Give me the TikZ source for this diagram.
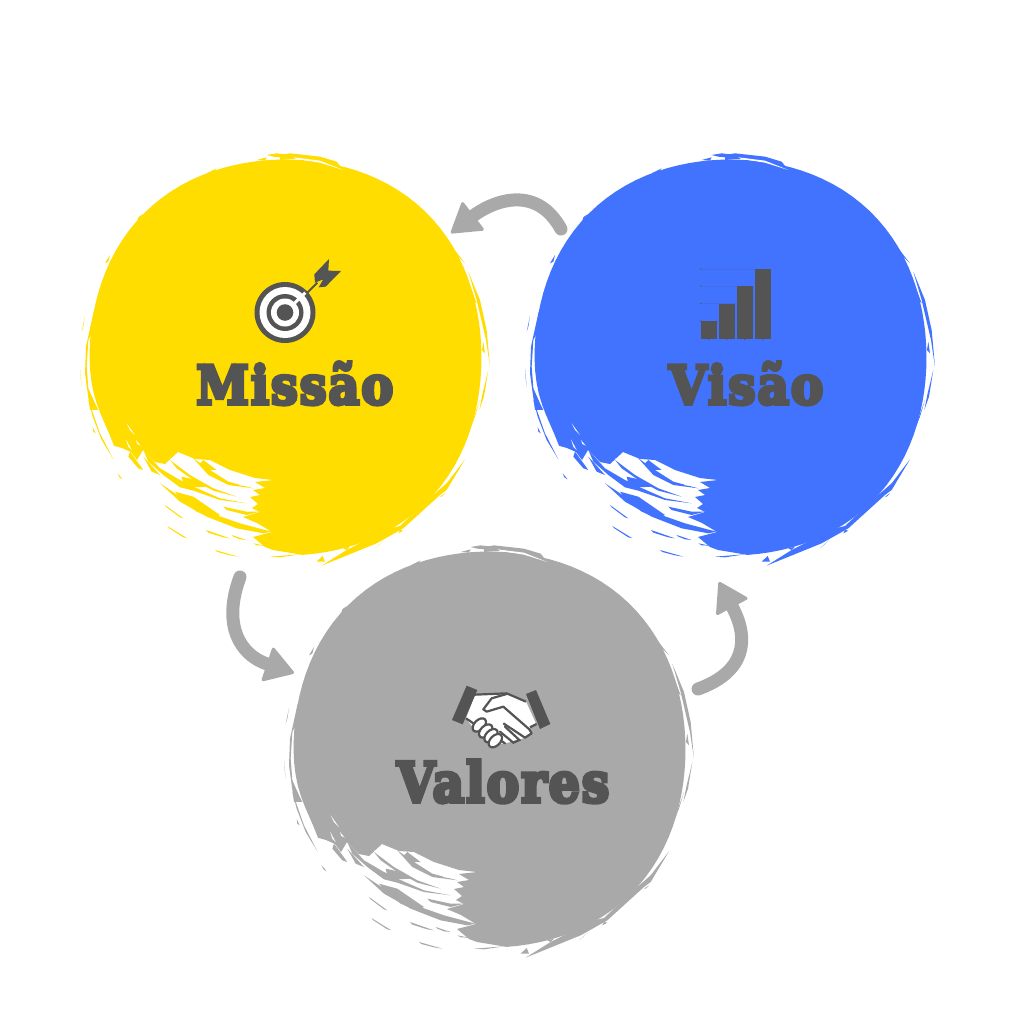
\documentclass[tikz,border=0pt]{standalone}
\usepackage{fontspec}
\usepackage{graphicx}
\usetikzlibrary{arrows.meta}
\newfontfamily\slabfont[FakeBold=7,LetterSpace=4]{DejaVu Serif Bold}
\definecolor{mis}{HTML}{FFDD00}
\definecolor{vis}{HTML}{4173FF}
\definecolor{val}{HTML}{A9A9A9}
\definecolor{ink}{HTML}{545454}
\tikzset{
  flow/.style={draw=val,line width=13pt,line cap=round,-{Triangle[length=30pt,width=37pt,line width=3pt,round]}},
  title/.style={anchor=base west,inner sep=0pt,text=ink},
  z4/.style={shift={(80,400)},x=0.3333pt,y=-0.3333pt},
  z5/.style={shift={(70,140)},x=0.3333pt,y=-0.3333pt},
  z6/.style={shift={(280,140)},x=0.3333pt,y=-0.3333pt},
  z7/.style={shift={(300,400)},x=0.3333pt,y=-0.3333pt},
}
\newcommand{\titletext}[3]{\resizebox{#1pt}{#2pt}{\slabfont #3}}
\newcommand{\brushblob}[2]{%
\begin{scope}[shift={#1}]
 \fill[#2] plot[domain=-85:207,samples=90,variable=\myang] ({285.5+(196+5*sin(2*\myang)*sin(2*\myang)-7*exp(-((\myang-205)/12)*((\myang-205)/12)))*cos(\myang)},{357.5-(198+5*sin(2*\myang)*sin(2*\myang)-7*exp(-((\myang-205)/12)*((\myang-205)/12)))*sin(\myang)})
  -- (122,448)--(131,452)--(137,460)--(143,450)--(155,462)--(165,464)--(178,452)--(195,459)--(210,460)--(230,470)--(255,478)--(273,480)--(255,482)--(265,488)--(253,490)--(260,495)--(250,497)--(258,504)--(252,508)--(260,512)--(243,517)--(257,523)--(272,532)--(253,537)--(265,547)--(273,550)--cycle;
 \begin{scope}[z4]
  \fill[#2] (190,150)--(240,205)--(300,240)--(345,262)--(420,295)--(500,310)--(420,300)--(340,272)--(300,262)--(250,225)--(205,185)--cycle;
  \fill[#2] (270,180)--(330,225)--(400,265)--(470,290)--(400,272)--(340,240)--(290,205)--cycle;
  \fill[#2] (305,230)--(350,240)--(380,260)--(340,262)--(310,250)--cycle;
  \fill[#2] (340,175)--(390,210)--(445,245)--(520,265)--(445,255)--(385,225)--cycle;
  \fill[#2] (370,180)--(410,210)--(385,210)--(360,190)--cycle;
  \fill[#2] (240,250)--(300,290)--(380,335)--(480,370)--(555,390)--(575,395)--(550,400)--(470,385)--(380,350)--(300,305)--cycle;
  \fill[#2] (285,275)--(340,290)--(420,345)--(400,355)--(350,335)--(300,295)--cycle;
  \fill[#2] (430,320)--(500,335)--(540,335)--(500,345)--(440,330)--cycle;
  \fill[#2] (150,155)--(190,210)--(175,205)--(145,170)--cycle;
  \fill[#2] (190,170)--(240,225)--(215,215)--cycle;
  \fill[#2] (255,315)--(310,355)--(300,352)--(260,322)--cycle;
  \fill[#2] (262,378)--(322,415)--(310,412)--(268,385)--cycle;
  \fill[#2] (378,390)--(450,415)--(430,412)--(385,398)--cycle;
  \fill[#2] (455,405)--(500,420)--(480,418)--(460,410)--cycle;
  \fill[#2] (405,450)--(475,470)--(450,466)--(412,456)--cycle;
  \fill[#2] (520,430)--(555,437)--(530,436)--cycle;
  \fill[#2] (113,220)--(128,238)--(118,232)--cycle;
  \fill[#2] (38,82)--(47,100)--(40,95)--cycle;
  \fill[#2] (25,0)--(60,100)--(100,178)--(65,120)--(38,50)--cycle;
  \fill[#2] (570,470)--(660,463)--(600,472)--cycle;
  \fill[white] (140,70)--(165,105)--(150,90)--cycle;
  \fill[white] (138,118)--(155,150)--(145,140)--cycle;
  \fill[white] (168,120)--(182,137)--(172,132)--cycle;
  \fill[white] (270,175)--(340,215)--(300,200)--cycle;
  \fill[white] (430,230)--(470,245)--(445,240)--cycle;
  \fill[white] (475,250)--(500,258)--(480,256)--cycle;
 \end{scope}
 \begin{scope}[z5]
  \fill[#2] (60,810)--(45,700)--(48,620)--(70,520)--(100,430)--(115,405)--(95,440)--(70,545)--(68,575)--(55,600)--(50,680)--(55,745)--(75,790)--(85,810)--cycle;
  \fill[#2] (35,575)--(45,528)--(40,560)--cycle;
  \fill[#2] (30,685)--(35,740)--(32,715)--cycle;
  \fill[#2] (105,370)--(120,345)--(115,365)--cycle;
  \fill[#2] (200,250)--(218,222)--(205,232)--cycle;
  \fill[#2] (320,150)--(328,142)--(322,156)--cycle;
  \fill[#2] (410,100)--(440,85)--(430,97)--cycle;
  \fill[#2] (450,90)--(560,65)--(450,95)--cycle;
  \fill[#2] (560,60)--(590,52)--(585,62)--cycle;
  \fill[#2] (590,45)--(620,40)--(660,45)--(660,55)--(610,50)--cycle;
 \end{scope}
 \begin{scope}[z6]
  \fill[#2] (0,45)--(30,40)--(120,50)--(170,65)--(190,90)--(130,70)--(60,55)--(0,60)--cycle;
  \fill[white] (40,52)--(120,62)--(190,90)--(120,68)--(50,57)--cycle;
  \fill[#2] (520,325)--(555,370)--(530,345)--cycle;
  \fill[#2] (565,395)--(600,480)--(620,570)--(630,680)--(618,600)--(590,480)--cycle;
  \fill[#2] (575,450)--(590,490)--(580,480)--cycle;
  \fill[#2] (610,605)--(615,640)--(606,630)--cycle;
  \fill[#2] (625,690)--(612,770)--(598,810)--(608,760)--cycle;
 \end{scope}
 \begin{scope}[z7]
  \fill[#2] (65,497)--(140,450)--(270,385)--(300,378)--(400,285)--(440,250)--(495,178)--(440,270)--(420,285)--(310,385)--(230,430)--cycle;
  \fill[#2] (50,485)--(68,468)--(75,485)--cycle;
  \fill[#2] (225,445)--(250,422)--(240,432)--cycle;
  \fill[#2] (130,445)--(150,440)--(140,450)--cycle;
  \fill[#2] (300,390)--(310,392)--(295,400)--cycle;
  \fill[#2] (420,290)--(435,280)--(425,290)--cycle;
  \fill[#2] (540,0)--(525,50)--(475,170)--(510,85)--cycle;
 \end{scope}
\end{scope}}
\begin{document}
\begin{tikzpicture}[x=1pt,y=-1pt]
\useasboundingbox (0,0) rectangle (1024,1024);
\fill[white] (0,0) rectangle (1024,1024);
\brushblob{(0,0)}{mis}
\brushblob{(445,0)}{vis}
\brushblob{(204,392)}{val}
% target icon
\coordinate (tc) at (285,312.5);
\fill[ink] (tc) circle (30.5);
\fill[white] (tc) circle (25.5);
\fill[ink] (tc) circle (18.5);
\fill[white] (tc) circle (14);
\fill[ink] (tc) circle (8.3);
\begin{scope}[shift={(180,240)},x=0.3333pt,y=-0.3333pt]
 \draw[white,line width=3pt] (335,198)--(376,158);
 \draw[ink,line width=2pt] (382,158)--(412,128);
 \fill[ink] (403,103)--(447,57)--(445,92)--(483,93)--(437,140)--(416,142)--(430,118)--(405,128)--cycle;
\end{scope}
% bars icon
\begin{scope}[shift={(650,250)},x=0.3333pt,y=-0.3333pt]
 \foreach \yy in {57,108,160,213}{
  \draw[ink!18!vis,line width=0.25pt] (151,\yy)--(316,\yy);
  \fill[ink] (152,\yy) circle (2);}
 \fill[ink] (153,213) rectangle (200,266);
 \fill[ink] (207,161) rectangle (254,266);
 \fill[ink] (262,108) rectangle (308,266);
 \fill[ink] (316,57) rectangle (362,266);
 \foreach \xx in {176,230,284,338}{\fill[ink] (\xx,268) circle (2);}
\end{scope}
% handshake icon
\begin{scope}[shift={(390,670)},x=0.3333pt,y=-0.3333pt]
 \fill[white] (228,145)--(255,75)--(350,70)--(408,95)--(440,165)--(420,172)--(425,190)--(400,205)--(345,220)--(318,222)--(255,180)--cycle;
 \draw[ink,line width=2.2pt,line join=round] (255,74)--(350,70)--(408,95);
 \draw[ink,line width=2.2pt,line join=round] (420,172)--(440,162);
 \draw[ink,line width=2.2pt,line join=round] (228,145)--(250,160);
 \draw[ink,line width=2.2pt,line join=round] (350,72)--(305,85)--(280,118)--(290,125)--(340,110)--(418,178)--(425,190)--(405,203)--(340,160);
 \draw[ink,line width=2.2pt,line cap=round] (345,170)--(388,210)--(370,218)--(330,185);
 \draw[ink,line width=2.2pt,line cap=round] (345,220)--(322,205);
 \foreach \px/\py in {268/165,287/183,303/197,316/212}{
  \draw[ink,fill=white,line width=2.2pt,rotate around={45:(\px,\py)}] (\px,\py) ellipse (24 and 15);}
 \fill[ink] (186,150)--(230,47)--(262,60)--(218,163)--cycle;
 \fill[ink] (408,72)--(438,60)--(481,162)--(450,177)--cycle;
\end{scope}
% titles
\node[title] (missao) at (196,404) {\titletext{197}{42}{Missão}};
\node[title] (visao) at (669,404) {\titletext{154}{42}{Visão}};
\node[title] (valores) at (397,802) {\titletext{212}{42}{Valores}};
% arrows
\coordinate (a1s) at (561,229);
\coordinate (a1e) at (451,233);
\coordinate (a2s) at (240,577);
\coordinate (a2e) at (294,673);
\coordinate (a3s) at (698,689);
\coordinate (a3e) at (719,582);
\draw[flow] (a1s) .. controls (535,182) and (490,203) .. (a1e);
\draw[flow] (a2s) .. controls (222,625) and (240,655) .. (a2e);
\draw[flow] (a3s) .. controls (745,672) and (750,640) .. (a3e);
\end{tikzpicture}
\end{document}
